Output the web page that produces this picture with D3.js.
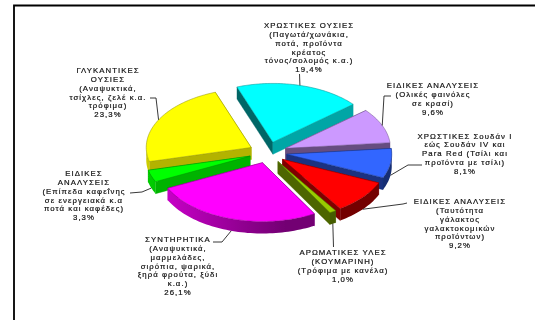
<!DOCTYPE html>
<html lang="el">
<head>
<meta charset="utf-8">
<script src="https://cdn.jsdelivr.net/npm/d3@7"></script>
<style>
  html, body { margin: 0; padding: 0; background: #fff; }
  svg { display: block; }
  text { font-family: "Liberation Sans", Arial, sans-serif; font-size: 7.8px; letter-spacing: 1.05px; fill: #111; text-anchor: middle; stroke: #111; stroke-width: 0.2px; }
</style>
</head>
<body>
<svg id="chart" width="535" height="320">
  <defs><filter id="soft" x="0" y="0" width="100%" height="100%"><feGaussianBlur stdDeviation="0.5"/></filter></defs>
</svg>
<script>
// Share of samples per analysis category, clockwise from the top slice
const values = [19.4, 9.6, 8.1, 9.2, 1.0, 26.1, 3.3, 23.3];
const colors = ["#00ffff", "#cc99ff", "#3366ff", "#ff0000", "#99cc00", "#ff00ff", "#00ff00", "#ffff00"];
const labelLines = [
  ["ΧΡΩΣΤΙΚΕΣ ΟΥΣΙΕΣ", "(Παγωτά/χωνάκια,", "ποτά, προϊόντα", "κρέατος", "τόνος/σολομός κ.α.)"],
  ["ΕΙΔΙΚΕΣ ΑΝΑΛΥΣΕΙΣ", "(Ολικές φαινόλες", "σε κρασί)"],
  ["ΧΡΩΣΤΙΚΕΣ Σουδάν Ι", "εώς Σουδάν ΙV και", "Para Red (Τσίλι και", "προϊόντα με τσίλι)"],
  ["ΕΙΔΙΚΕΣ ΑΝΑΛΥΣΕΙΣ", "(Ταυτότητα", "γάλακτος", "γαλακτοκομικών", "προϊόντων)"],
  ["ΑΡΩΜΑΤΙΚΕΣ ΥΛΕΣ", "(ΚΟΥΜΑΡΙΝΗ)", "(Τρόφιμα με κανέλα)"],
  ["ΣΥΝΤΗΡΗΤΙΚΑ", "(Αναψυκτικά,", "μαρμελάδες,", "σιρόπια, ψαρικά,", "ξηρά φρούτα, ξύδι", "κ.α.)"],
  ["ΕΙΔΙΚΕΣ", "ΑΝΑΛΥΣΕΙΣ", "(Επίπεδα καφεΐνης", "σε ενεργειακά κ.α", "ποτά και καφέδες)"],
  ["ΓΛΥΚΑΝΤΙΚΕΣ", "ΟΥΣΙΕΣ", "(Αναψυκτικά,", "τσίχλες, ζελέ κ.α.", "τρόφιμα)"]
];

// Label placement: centre x, first line y, and the leader's path from the text to its elbow
const labelX = [309, 433, 465, 460, 343, 178, 84, 108];
const labelY = [28, 88, 138.5, 204, 255, 242, 176, 73];
const leaderStarts = [
  [[299.5, 74]],
  [[391, 96], [384, 96]],
  [[422, 165], [408, 165]],
  [[407, 203], [403, 204]],
  [[333.5, 247]],
  [[213, 242], [222, 242]],
  [[130, 193], [142, 192]],
  [[150, 98], [156, 98]]
];

const svg = d3.select("#chart");
const defs = svg.select("defs");
const root = svg.append("g").attr("filter", "url(#soft)");
root.append("rect").attr("width", 535).attr("height", 320).attr("fill", "#fff");
const tau = 2 * Math.PI;

// Projection of the tilted pie
const cx = 268, cy = 152.5, rx = 105, tilt = 0.56, explode = 19, depth = 12, lineH = 8.85;
const startAngle = -20 / 360 * tau;

const slices = d3.pie().sort(null).startAngle(startAngle).endAngle(startAngle + tau)(values)
  .map((d, i) => ({ ...d, i, mid: (d.startAngle + d.endAngle) / 2 }));

const apex = d => [
  cx + explode * Math.sin(d.mid),
  cy - explode * tilt * Math.cos(d.mid)
];
const rim = (d, a) => {
  const [x, y] = apex(d);
  return [x + rx * Math.sin(a), y - rx * tilt * Math.cos(a)];
};
const down = p => [p[0], p[1] + depth];
const line = d3.line();
const shade = (c, f) => d3.interpolateRgb(c, "#000")(f);

// Walls darken from the lit left side towards the right
const rimShade = a => {
  const deg = ((a / tau * 360) % 360 + 360) % 360;
  return 0.55 - 0.35 * Math.max(0, Math.min(1, (deg - 170) / 80));
};
const faceShade = (p, q) => (q[0] < p[0] ? 0.3 : 0.5);

// Frame along the top and left
root.append("path").attr("d", "M14 320V5.5H535").attr("fill", "none").attr("stroke", "#000").attr("stroke-width", 1.8);

// Paint slices from the back to the front
const order = slices.slice().sort((a, b) => Math.cos(b.mid) - Math.cos(a.mid));
const pies = root.append("g");
order.forEach(d => {
  const g = pies.append("g");
  const c = colors[d.i];
  const o = apex(d);
  [[d.startAngle, d.i === 0 ? 0.6 : null], [d.endAngle, d.i === 0 ? 0.35 : null]].forEach(([a, f]) => {
    const e = rim(d, a);
    const s = f === null ? faceShade(o, e) : f;
    g.append("path")
      .attr("d", line([o, e, down(e), down(o)]) + "Z")
      .attr("fill", shade(c, s))
      .attr("stroke", shade(c, s)).attr("stroke-width", 0.4);
  });

  const steps = d3.range(d.startAngle, d.endAngle, 0.03).concat(d.endAngle);
  const front = steps.filter(a => Math.cos(a) <= 0.05);
  if (front.length > 1) {
    const top = front.map(a => rim(d, a));
    const id = "wall" + d.i;
    const grad = defs.append("linearGradient").attr("id", id)
      .attr("gradientUnits", "userSpaceOnUse")
      .attr("x1", top[0][0]).attr("y1", 0)
      .attr("x2", top[top.length - 1][0]).attr("y2", 0);
    d3.range(0, 1.01, 0.2).forEach(t => {
      const a = front[Math.round(t * (front.length - 1))];
      grad.append("stop").attr("offset", t).attr("stop-color", shade(c, rimShade(a)));
    });
    g.append("path")
      .attr("d", line([...top, ...top.map(down).reverse()]) + "Z")
      .attr("fill", `url(#${id})`);
  }

  g.append("path")
    .attr("d", line([o, ...steps.map(a => rim(d, a))]) + "Z")
    .attr("fill", c)
    .attr("stroke", shade(c, 0.45)).attr("stroke-width", 0.5).attr("stroke-linejoin", "round");
});

// Leaders run from each label to the middle of its slice's outer edge
const fmt = v => v.toFixed(1).replace(".", ",") + "%";
slices.forEach(d => {
  let end = rim(d, d.mid);
  if (Math.cos(d.mid) < 0) end = down(end);
  root.append("path")
    .attr("d", line([...leaderStarts[d.i], end]))
    .attr("fill", "none").attr("stroke", "#222").attr("stroke-width", 0.9);

  const t = root.append("text").attr("x", labelX[d.i]).attr("y", labelY[d.i]);
  [...labelLines[d.i], fmt(d.value)].forEach((s, k) => {
    t.append("tspan").attr("x", labelX[d.i]).attr("dy", k ? lineH : 0).text(s);
  });
});
</script>
</body>
</html>
